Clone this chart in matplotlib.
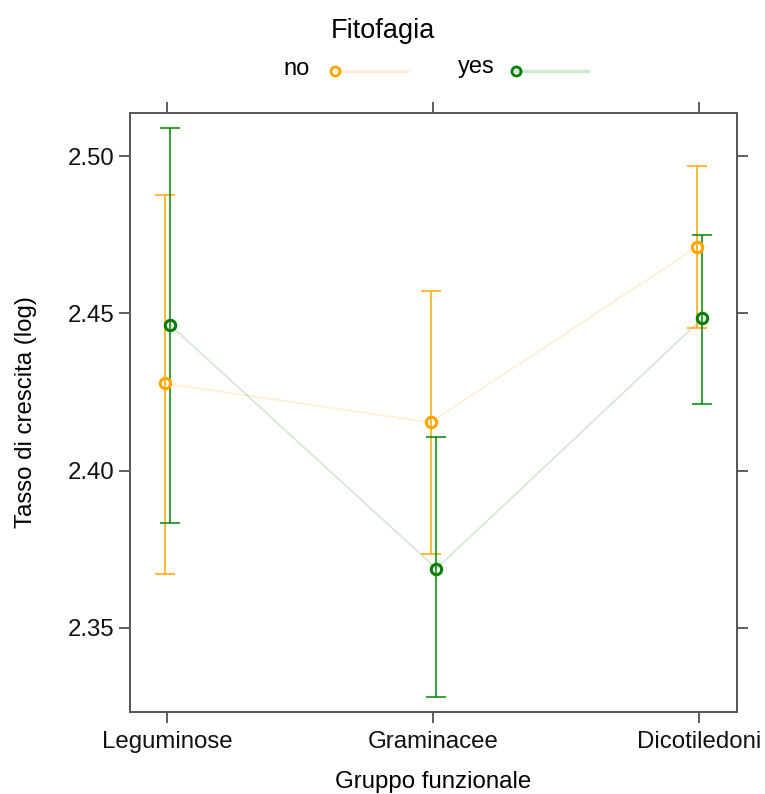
import numpy as np
import matplotlib
matplotlib.use('Agg')
import matplotlib.pyplot as plt
from matplotlib.lines import Line2D

plt.rcParams['font.family'] = ['Liberation Sans', 'DejaVu Sans']

# Effect estimates
gruppi = ['Leguminose', 'Graminacee', 'Dicotiledoni']
no_fit = [2.4277, 2.4153, 2.4710]
no_low = [2.3672, 2.3736, 2.4452]
no_up = [2.4876, 2.4570, 2.4968]
yes_fit = [2.4462, 2.3688, 2.4484]
yes_low = [2.3834, 2.3280, 2.4213]
yes_up = [2.5089, 2.4105, 2.4750]
y_ticks = [2.35, 2.40, 2.45, 2.50]

orange = '#FFA500'
green = '#007F00'
axis_col = '#555555'

fig = plt.figure(figsize=(7.65, 7.94), dpi=100)
ax = fig.add_axes([130 / 765, 82 / 794, 607 / 765, 599 / 794])

x = np.arange(len(gruppi))
series = [
    ('no', no_fit, no_low, no_up, orange, -0.009),
    ('yes', yes_fit, yes_low, yes_up, green, 0.013),
]
for name, fit, low, up, col, off in series:
    fit = np.array(fit)
    low = np.array(low)
    up = np.array(up)
    xs = x + off
    ax.plot(xs, fit, color=col, lw=1.2, alpha=0.18, zorder=1)
    ax.errorbar(xs, fit, yerr=[fit - low, up - fit], fmt='none', ecolor=col,
                elinewidth=1.5, capsize=7.3, capthick=1.5, alpha=0.75, zorder=2)
    ax.plot(xs, fit, 'o', ms=7.5, mfc='none', mec=col, mew=2.2, zorder=3)

ax.set_xlim(-0.139, 2.143)
ax.set_ylim(2.3232, 2.5137)
ax.set_xticks(x)
ax.set_xticklabels(gruppi)
ax.set_yticks(y_ticks)
ax.set_yticklabels(['%.2f' % v for v in y_ticks])

for s in ax.spines.values():
    s.set_color(axis_col)
    s.set_linewidth(1.4)
ax.tick_params(axis='both', direction='out', length=8, width=1.1, color='#333333',
               labelsize=17.3, labelcolor='#111111', pad=3)
ax.tick_params(axis='x', pad=5.5)
ax.tick_params(top=True, right=True, labeltop=False, labelright=False)

ax.set_ylabel('Tasso di crescita (log)', fontsize=17.3)
ax.yaxis.set_label_coords(-0.153, 0.5)
fig.text(433 / 765, 1 - 788 / 794, 'Gruppo funzionale', ha='center', va='baseline',
         fontsize=17.3)

# Legend on top
fig.text(0.5, 1 - 31 / 794, 'Fitofagia', ha='center', va='center', fontsize=19.5)
leg_y = 1 - 71 / 794
fig.text(297 / 765, leg_y + 0.002, 'no', ha='center', va='center', fontsize=17)
fig.text(476 / 765, leg_y + 0.005, 'yes', ha='center', va='center', fontsize=17)
for x0, x1, col in [(335, 407, orange), (516, 588, green)]:
    fig.add_artist(Line2D([x0 / 765, x1 / 765], [leg_y, leg_y], color=col, lw=2.5,
                          alpha=0.18, transform=fig.transFigure))
    fig.add_artist(Line2D([x0 / 765], [leg_y], marker='o', ms=6.5, mfc='none', mec=col,
                          mew=2, transform=fig.transFigure))

fig.savefig('out.png', dpi=100)
